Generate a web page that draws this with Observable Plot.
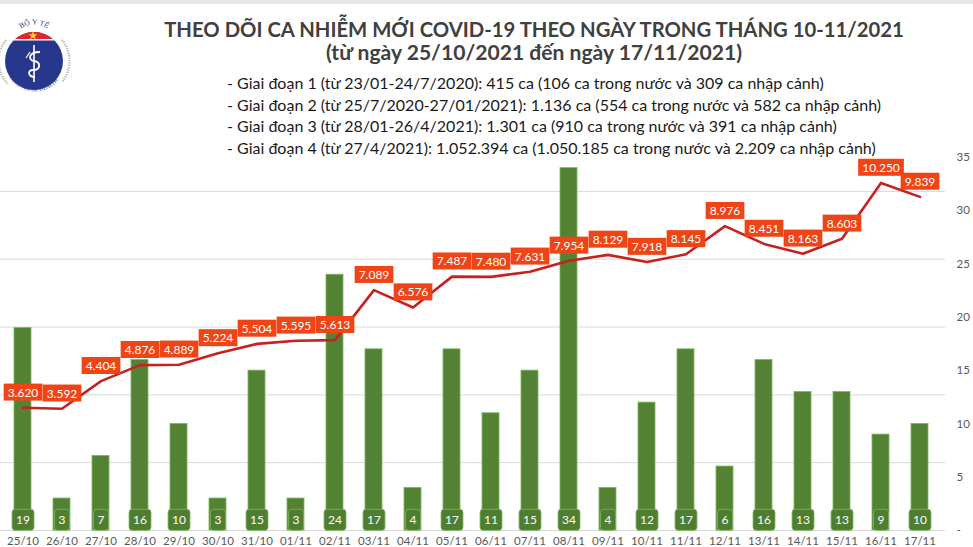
<!DOCTYPE html>
<html>
<head>
<meta charset="utf-8">
<script src="https://cdn.jsdelivr.net/npm/d3@7"></script>
<script src="https://cdn.jsdelivr.net/npm/@observablehq/plot@0.6"></script>
<style>
  html, body { margin: 0; padding: 0; background: #fff; }
  #wrap { position: relative; width: 973px; height: 547px; overflow: hidden; background: #fff;
          font-family: Lato, "Open Sans", sans-serif; }
  #topbar { position: absolute; left: 0; top: 0; width: 973px; height: 4px; background: #e6e6e6; }
  .title { position: absolute; left: 534px; transform: translateX(-50%); white-space: nowrap;
           font-weight: bold; color: #404040; line-height: 1; }
  #notes { position: absolute; left: 227px; top: 72px; font-size: 16px; color: #1a1a1a; line-height: 21.7px; white-space: nowrap; }
  #chart { position: absolute; left: 0; top: 0; }
</style>
</head>
<body>
<div id="wrap">
  <div id="topbar"></div>
  <svg id="logo" width="74" height="100" style="position:absolute;left:0;top:0">
    <defs>
      <clipPath id="disk"><circle cx="34" cy="61" r="29"/></clipPath>
      <path id="arcTop" d="M 14 36 A 23 23 0 0 1 54 36"/>
      <path id="arcBot" d="M 6 70 A 30 30 0 0 0 62 74"/>
    </defs>
    <path d="M 6 40 A 33 33 0 0 0 8 84" fill="none" stroke="#b9b9b9" stroke-width="2.5" stroke-dasharray="1.2 1.2"/>
    <path d="M 62 40 A 33 33 0 0 1 62 82" fill="none" stroke="#b9b9b9" stroke-width="2.5" stroke-dasharray="1.2 1.2"/>
    <circle cx="34" cy="61" r="29" fill="#27388c"/>
    <g clip-path="url(#disk)">
      <rect x="0" y="28" width="74" height="11" fill="#e3262b"/>
      <rect x="0" y="39" width="74" height="1.5" fill="#ffffff"/>
    </g>
    <polygon points="33,31 34.2,34.2 37.5,34.2 34.8,36.2 35.8,39.3 33,37.4 30.2,39.3 31.2,36.2 28.5,34.2 31.8,34.2" fill="#ffd21f"/>
    <line x1="34" y1="45" x2="34" y2="82" stroke="#fff" stroke-width="1.6"/>
    <path d="M 40 52 C 28 52, 28 60, 34 61 C 41 62, 41 70, 33 70 C 27 70, 28 77, 35 77" fill="none" stroke="#fff" stroke-width="1.8"/>
    <path d="M 26 58 L 30 52" stroke="#fff" stroke-width="1.2"/>
    <text font-size="7.5" fill="#27388c" font-family="Liberation Serif, serif"><textPath href="#arcTop" startOffset="50%" text-anchor="middle">BỘ Y TẾ</textPath></text>
    <text font-size="5.5" fill="#27388c" font-family="Liberation Serif, serif"><textPath href="#arcBot" startOffset="50%" text-anchor="middle">MINISTRY OF HEALTH</textPath></text>
  </svg>
  <div class="title" style="top:19px;font-size:20.3px">THEO DÕI CA NHIỄM MỚI COVID-19 THEO NGÀY TRONG THÁNG 10-11/2021</div>
  <div class="title" style="top:41px;font-size:21.1px">(từ ngày 25/10/2021 đến ngày 17/11/2021)</div>
  <div id="notes">
    <div>- Giai đoạn 1 (từ 23/01-24/7/2020): 415 ca (106 ca trong nước và 309 ca nhập cảnh)</div>
    <div>- Giai đoạn 2 (từ 25/7/2020-27/01/2021): 1.136 ca (554 ca trong nước và 582 ca nhập cảnh)</div>
    <div>- Giai đoạn 3 (từ 28/01-26/4/2021): 1.301 ca (910 ca trong nước và 391 ca nhập cảnh)</div>
    <div>- Giai đoạn 4 (từ 27/4/2021): 1.052.394 ca (1.050.185 ca trong nước và 2.209 ca nhập cảnh)</div>
  </div>
  <div id="chart"></div>
</div>
<script>
const dates = ["25/10","26/10","27/10","28/10","29/10","30/10","31/10","01/11","02/11","03/11","04/11","05/11",
               "06/11","07/11","08/11","09/11","10/11","11/11","12/11","13/11","14/11","15/11","16/11","17/11"];
const cases = [3620,3592,4404,4876,4889,5224,5504,5595,5613,7089,6576,7487,
               7480,7631,7954,8129,7918,8145,8976,8451,8163,8603,10250,9839];
const deaths = [19,3,7,16,10,3,15,3,24,17,4,17,11,15,34,4,12,17,6,16,13,13,9,10];
const rightTicks = [0,5,10,15,20,25,30,35];
const gridValues = [0,2000,4000,6000,8000,10000];

const caseMax = 11000, deathMax = 35;
const K = caseMax / deathMax;
const data = dates.map((d, i) => ({date: d, cases: cases[i], deaths: deaths[i]}));
const vn = d3.formatLocale({decimal: ",", thousands: ".", grouping: [3], currency: ["", ""]});
const fmt = vn.format(",d");
const font = 'Lato, "Open Sans", sans-serif';

const chart = Plot.plot({
  width: 973, height: 547,
  marginTop: 157, marginBottom: 17, marginLeft: 0, marginRight: 28,
  style: {fontFamily: font, background: "transparent", overflow: "visible"},
  x: {type: "band", domain: dates, range: [-3, 945], paddingInner: 0.57, paddingOuter: 0.285, axis: null},
  y: {domain: [0, caseMax], axis: null},
  marks: [
    Plot.ruleY(gridValues, {stroke: "#d9d9d9", strokeWidth: 1}),
    Plot.barY(data, {x: "date", y: d => d.deaths * K, fill: "#548235", stroke: "#7cb85a", strokeWidth: 0.8}),
    Plot.lineY(data, {x: "date", y: "cases", stroke: "#c8201e", strokeWidth: 2.6}),
    Plot.text(data, {x: "date", y: "cases", text: d => fmt(d.cases), dy: -15, fill: "white", fontSize: 12}),
    Plot.text(data, {x: "date", y: 0, text: d => String(d.deaths), dy: -10, fill: "white", fontSize: 12}),
    Plot.axisX({anchor: "bottom", tickSize: 0, tickPadding: 6, fontSize: 11.5, color: "#595959", label: null}),
    Plot.axisY(rightTicks.map(v => v * K), {anchor: "right", tickSize: 0, tickPadding: 11, fontSize: 11.5, color: "#595959",
      tickFormat: v => { const t = Math.round(v / K); return t === 0 ? "-" : String(t); }, label: null})
  ]
});
document.getElementById("chart").appendChild(chart);

function boxes(group, fill, padX, padY, rx, stroke) {
  d3.select(group).selectAll("text").each(function() {
    const b = this.getBBox();
    const r = document.createElementNS("http://www.w3.org/2000/svg", "rect");
    r.setAttribute("x", b.x - padX);
    r.setAttribute("y", b.y - padY);
    r.setAttribute("width", b.width + 2 * padX);
    r.setAttribute("height", b.height + 2 * padY);
    r.setAttribute("rx", rx);
    r.setAttribute("fill", fill);
    if (stroke) { r.setAttribute("stroke", stroke); r.setAttribute("stroke-width", 0.8); }
    const t = this.getAttribute("transform");
    if (t) r.setAttribute("transform", t);
    this.parentNode.insertBefore(r, this);
  });
}
const textGroups = chart.querySelectorAll('g[aria-label="text"]');
if (textGroups.length >= 2) {
  boxes(textGroups[0], "#ef4416", 4, 1, 0, null);
  boxes(textGroups[1], "#4f7d31", 4, 3, 3, "#7cb85a");
}
</script>
</body>
</html>
